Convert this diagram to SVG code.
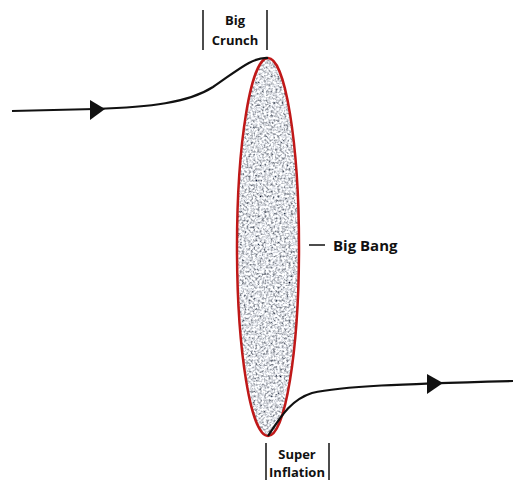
<svg xmlns="http://www.w3.org/2000/svg" width="514" height="480" viewBox="0 0 514 480">
<style>
.lbl{font-family:"Open Sans","Liberation Sans",sans-serif;font-weight:bold;fill:#111;}
.bar{stroke:#111;stroke-width:1.5;}
.curve{fill:none;stroke:#111;stroke-width:2.2;}
</style>
<defs>
<filter id="noise" x="0" y="0" width="100%" height="100%">
<feTurbulence type="fractalNoise" baseFrequency="0.45" numOctaves="2" seed="5" result="t"/>
<feColorMatrix in="t" type="matrix" values="2 0 0 0 -0.28  2 0 0 0 -0.26  2 0 0 0 -0.22  0 0 0 0 1" result="g"/>
<feComposite in="g" in2="SourceGraphic" operator="in"/>
</filter>
<clipPath id="clipE"><ellipse cx="268" cy="247" rx="31" ry="189"/></clipPath>
</defs>
<rect width="514" height="480" fill="#fff"/>
<g id="bigbang">
<ellipse cx="268" cy="247" rx="31" ry="189" fill="#b9bbc0"/>
<g clip-path="url(#clipE)"><rect x="237" y="58" width="62" height="378" fill="#000" filter="url(#noise)"/></g>
<ellipse cx="268" cy="247" rx="31" ry="189" fill="none" stroke="#c01818" stroke-width="2.5"/>
<line class="bar" x1="309" y1="245" x2="325" y2="245"/>
<text class="lbl" x="333" y="251" font-size="15">Big Bang</text>
</g>
<g id="connectors">
<path class="curve" d="M12,111 L95,109 C150,107 188,103 213,87 C238,70 252,57 268,58"/>
<polygon points="90,100 90,120 105,109" fill="#111"/>
<path class="curve" d="M268,436 C280,418 290,400 312,393 C342,386 400,384 513,381"/>
<polygon points="427,374 427,394 443,383" fill="#111"/>
</g>
<g id="bigcrunch">
<line class="bar" x1="203" y1="10" x2="203" y2="50"/>
<line class="bar" x1="267" y1="10" x2="267" y2="50"/>
<text class="lbl" x="235" y="25" font-size="13" text-anchor="middle">Big</text>
<text class="lbl" x="235" y="45" font-size="13" text-anchor="middle">Crunch</text>
</g>
<g id="superinflation">
<line class="bar" x1="266" y1="443" x2="266" y2="480"/>
<line class="bar" x1="329" y1="443" x2="329" y2="480"/>
<text class="lbl" x="297" y="459" font-size="13" text-anchor="middle">Super</text>
<text class="lbl" x="297" y="477" font-size="13" text-anchor="middle">Inflation</text>
</g>
</svg>
